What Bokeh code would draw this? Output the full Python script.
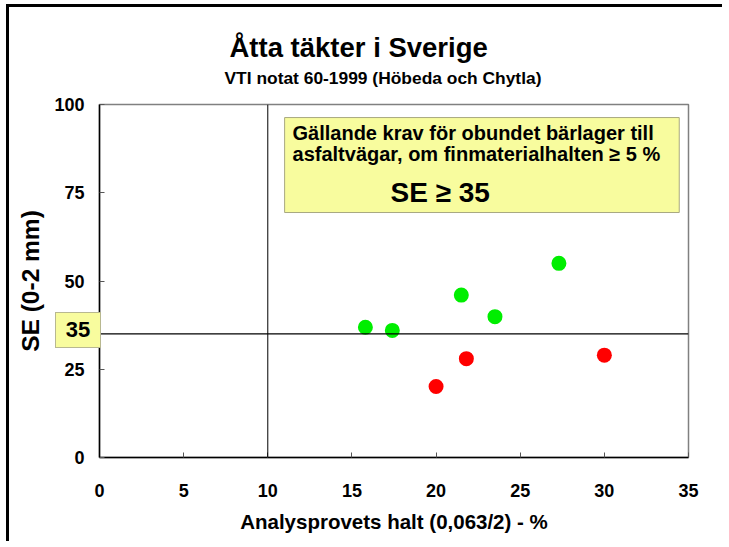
from bokeh.plotting import figure
from bokeh.layouts import column
from bokeh.models import Span, BoxAnnotation, Label, FixedTicker, Range1d, Title, Div
from bokeh.embed import file_html
from bokeh.resources import INLINE

# ---- data ----
x_ok = [15.8, 17.4, 21.5, 23.5, 27.3]
se_ok = [36.9, 36.0, 46.0, 39.9, 55.0]
x_fail = [20.0, 21.8, 30.0]
se_fail = [20.1, 28.0, 29.0]
x_ticks = [0, 5, 10, 15, 20, 25, 30, 35]
y_ticks = [0, 25, 50, 75, 100]
limit_se = 35
limit_x = 10

title_text = "Åtta täkter i Sverige"
subtitle_text = "VTI notat 60-1999 (Höbeda och Chytla)"
x_label = "Analysprovets halt (0,063/2) - %"
y_label = "SE (0-2 mm)"
note_lines = ["Gällande krav för obundet bärlager till",
              "asfaltvägar, om finmaterialhalten ≥ 5 %"]
note_req = "SE ≥ 35"

FONT = "Liberation Sans"
YELLOW = "#F8FC9E"

p = figure(width=716, height=537, x_range=Range1d(0, 35), y_range=Range1d(0, 100),
           output_backend="svg", toolbar_location=None,
           min_border_left=90, min_border_right=37, min_border_top=97, min_border_bottom=87,
           styles={"border-top": "3px solid black", "border-left": "3px solid black",
                   "margin-left": "6px", "margin-top": "4px"})
p.grid.visible = False
p.outline_line_color = "#808080"
p.outline_line_width = 1.5

p.xaxis.ticker = FixedTicker(ticks=x_ticks)
p.yaxis.ticker = FixedTicker(ticks=y_ticks)
p.xaxis.axis_label = x_label
p.yaxis.axis_label = y_label
for ax in (p.xaxis[0], p.yaxis[0]):
    ax.major_tick_in = 5
    ax.major_tick_out = 0
    ax.minor_tick_in = 0
    ax.minor_tick_out = 0
    ax.axis_line_color = "black"
    ax.axis_line_width = 1.5
    ax.major_tick_line_color = "#555555"
    ax.major_label_text_font = FONT
    ax.major_label_text_font_style = "bold"
    ax.major_label_text_font_size = "18px"
    ax.major_label_text_color = "black"
    ax.axis_label_text_font = FONT
    ax.axis_label_text_font_style = "bold"
    ax.axis_label_text_color = "black"
p.xaxis.major_label_standoff = 26
p.yaxis.major_label_standoff = 15
p.xaxis.axis_label_text_font_size = "20.5px"
p.yaxis.axis_label_text_font_size = "24.5px"
p.xaxis.axis_label_standoff = 10
p.yaxis.axis_label_standoff = 7

p.add_layout(Span(location=limit_x, dimension="height", line_color="black", line_width=1))
p.add_layout(Span(location=limit_se, dimension="width", line_color="black", line_width=1.2))

p.scatter(x_ok, se_ok, size=15, fill_color="#00EE00", line_color=None)
p.scatter(x_fail, se_fail, size=15, fill_color="#FF0000", line_color=None)

# requirement note box
p.add_layout(BoxAnnotation(left=11.0, right=34.45, bottom=69.4, top=96.3,
                           fill_color=YELLOW, fill_alpha=1.0,
                           line_color="#A8A880", line_width=1, line_alpha=1.0))
for txt, yy in zip(note_lines, [91.8, 86.1]):
    p.add_layout(Label(x=11.47, y=yy, text=txt, text_align="left", text_baseline="middle",
                       text_font=FONT, text_font_style="bold", text_font_size="20px",
                       text_color="black"))
p.add_layout(Label(x=17.29, y=75.1, text=note_req, text_align="left", text_baseline="middle",
                   text_font=FONT, text_font_style="bold", text_font_size="28px",
                   text_color="black"))

# titles (spacer, subtitle, main title, stacked upwards from the frame)
p.title.visible = False
p.add_layout(Title(text=" ", text_font_size="1px", standoff=14), "above")
p.add_layout(Title(text=subtitle_text, align="left", offset=125, text_font=FONT,
                   text_font_style="bold", text_font_size="17.4px", text_color="black",
                   standoff=0), "above")
p.add_layout(Title(text=title_text, align="left", offset=130, text_font=FONT,
                   text_font_style="bold", text_font_size="27.5px", text_color="black",
                   standoff=6), "above")

# highlighted "35" tag beside the y axis (HTML overlay)
tag_html = ('<div style="box-sizing:border-box;width:46px;height:36px;line-height:34px;'
            'text-align:center;font-family:\'Liberation Sans\';font-weight:bold;'
            f'font-size:22px;color:black;background:{YELLOW};border:1px solid #B8B890;">'
            f'{limit_se}</div>')
tag = Div(text=tag_html, width=46, height=36,
          styles={"position": "absolute", "left": "55px", "top": "312px", "z-index": "10",
                  "margin": "0", "padding": "0"})

layout = column(p, tag, spacing=0)
open("out.html", "w").write(file_html(layout, INLINE))
